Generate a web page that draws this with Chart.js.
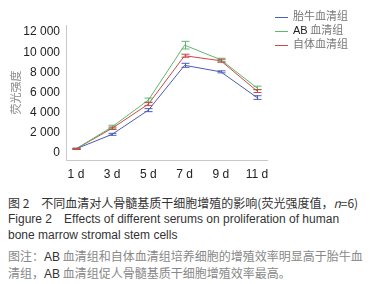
<!DOCTYPE html>
<html>
<head>
<meta charset="utf-8">
<script src="https://cdn.jsdelivr.net/npm/chart.js@4/dist/chart.umd.min.js"></script>
<style>
  body { margin: 0; background: #fff; width: 381px; height: 284px; overflow: hidden; font-family: "Liberation Sans", Arial, sans-serif; }
  #wrap { position: relative; width: 381px; height: 182px; }
  #legend { position: absolute; left: 275px; top: 8px; font-size: 11px; color: #777; font-family: "Noto Sans CJK SC", sans-serif; }
  #legend div { height: 14px; line-height: 14px; white-space: nowrap; }
  #legend span.ln { display: inline-block; width: 13px; height: 1px; vertical-align: middle; margin-right: 5px; }
  #legend b { font-weight: normal; color: #222; font-family: "Liberation Sans", Arial, sans-serif; }
  #cap { position: absolute; left: 8px; top: 195px; font-size: 12px; line-height: 16px; color: #333; white-space: nowrap; }
  #cap .cn { font-family: "Noto Sans CJK SC", sans-serif; }
  #cap .note { color: #888; font-family: "Noto Sans CJK SC", sans-serif; }
  #cap .note b { font-weight: normal; color: #333; font-family: "Liberation Sans", Arial, sans-serif; }
</style>
</head>
<body>
<div id="wrap">
  <canvas id="chart" width="381" height="182"></canvas>
  <div id="legend">
    <div><span class="ln" style="background:#4a5cb4"></span>胎牛血清组</div>
    <div><span class="ln" style="background:#5cb86a"></span><b>AB</b> 血清组</div>
    <div><span class="ln" style="background:#c94848"></span>自体血清组</div>
  </div>
</div>
<div id="cap">
  <div class="cn">图 2　不同血清对人骨髓基质干细胞增殖的影响(荧光强度值，<i>n</i>=6)</div>
  <div>Figure 2　Effects of different serums on proliferation of human</div>
  <div>bone marrow stromal stem cells</div>
  <div class="note" style="margin-top:5px">图注：<b>AB</b> 血清组和自体血清组培养细胞的增殖效率明显高于胎牛血</div>
  <div class="note">清组，<b>AB</b> 血清组促人骨髓基质干细胞增殖效率最高。</div>
</div>
<script>
// Data
const days = [1, 3, 5, 7, 9, 11];
const dayLabels = ['1 d', '3 d', '5 d', '7 d', '9 d', '11 d'];
const fbs = [400, 1850, 4250, 8700, 8050, 5500];
const fbsErr = [60, 100, 150, 200, 100, 180];
const ab = [400, 2600, 5250, 10700, 9250, 6450];
const abErr = [60, 150, 200, 380, 150, 180];
const auto = [400, 2450, 4850, 9650, 9150, 6150];
const autoErr = [60, 120, 150, 150, 150, 150];
const yTicks = [0, 2000, 4000, 6000, 8000, 10000, 12000];

function pts(vals) {
  return days.map((d, i) => ({ x: d, y: vals[i] }));
}

// error bars drawn through the chart scales
const errorBars = {
  id: 'errorBars',
  afterDatasetsDraw(chart) {
    const ctx = chart.ctx;
    const xs = chart.scales.x, ys = chart.scales.y;
    chart.data.datasets.forEach(ds => {
      ctx.save();
      ctx.strokeStyle = ds.borderColor;
      ctx.lineWidth = 1;
      ds.data.forEach((p, i) => {
        const px = Math.round(xs.getPixelForValue(p.x)) + 0.5;
        const top = ys.getPixelForValue(p.y + ds.err[i]);
        const bot = ys.getPixelForValue(p.y - ds.err[i]);
        ctx.beginPath();
        ctx.moveTo(px, top); ctx.lineTo(px, bot);
        ctx.moveTo(px - 4, top); ctx.lineTo(px + 4, top);
        ctx.moveTo(px - 4, bot); ctx.lineTo(px + 4, bot);
        ctx.stroke();
      });
      ctx.restore();
    });
  }
};

const fmt = v => v >= 1000 ? Math.floor(v / 1000) + ' ' + String(v % 1000).padStart(3, '0') : String(v);

new Chart(document.getElementById('chart'), {
  type: 'line',
  data: {
    datasets: [
      { label: '胎牛血清组', data: pts(fbs), err: fbsErr, borderColor: '#4a5cb4' },
      { label: 'AB 血清组', data: pts(ab), err: abErr, borderColor: '#5cb86a' },
      { label: '自体血清组', data: pts(auto), err: autoErr, borderColor: '#c94848' }
    ]
  },
  options: {
    responsive: false,
    animation: false,
    elements: { line: { borderWidth: 1, tension: 0 }, point: { radius: 0 } },
    layout: { padding: { top: 25, right: 114, left: 0, bottom: 0 } },
    plugins: { legend: { display: false }, tooltip: { enabled: false } },
    scales: {
      x: {
        type: 'linear',
        min: 0.45,
        max: 11.55,
        afterBuildTicks: s => { s.ticks = days.map(v => ({ value: v })); },
        afterFit: s => { s.height = 22; },
        grid: { display: false, drawTicks: true, tickLength: 4, tickColor: '#999' },
        border: { color: '#c8c8c8' },
        ticks: {
          color: '#222',
          font: { size: 12, family: 'Liberation Sans' },
          padding: 3,
          maxRotation: 0,
          callback: v => dayLabels[days.indexOf(v)]
        }
      },
      y: {
        min: -700,
        max: 12700,
        afterBuildTicks: s => { s.ticks = yTicks.map(v => ({ value: v })); },
        afterFit: s => { s.width = 66; },
        grid: { display: false, drawTicks: true, tickLength: 4, tickColor: '#999' },
        border: { color: '#c8c8c8' },
        title: {
          display: true,
          text: '荧光强度',
          color: '#888',
          font: { size: 11, family: 'Noto Sans CJK SC' },
          padding: { top: 9, bottom: 0 }
        },
        ticks: {
          color: '#222',
          font: { size: 12, family: 'Liberation Sans' },
          padding: 2,
          callback: v => fmt(v)
        }
      }
    }
  },
  plugins: [errorBars]
});
</script>
</body>
</html>
